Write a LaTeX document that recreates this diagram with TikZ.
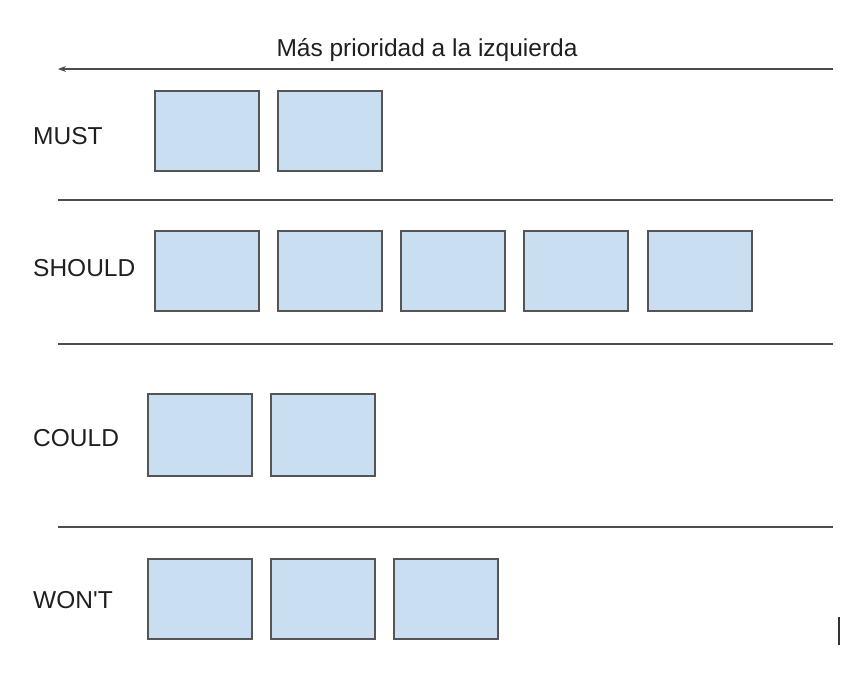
\documentclass[tikz,border=0pt]{standalone}
\usepackage{fontspec}
\setmainfont{Liberation Sans}[Ligatures=TeXOff]
\usetikzlibrary{arrows.meta}
\definecolor{cajaazul}{RGB}{201,222,240}
\definecolor{bordegris}{RGB}{85,85,85}
\tikzset{
	caja/.style={draw=bordegris, fill=cajaazul, line width=2pt, inner sep=0pt, minimum width=104pt, minimum height=80pt},
	etiqueta/.style={anchor=base west, inner sep=0pt, text=black!88, font=\fontsize{24.5}{28}\selectfont},
	separador/.style={draw=black!70, line width=1.3pt}
}
\begin{document}
\begin{tikzpicture}[x=1pt,y=-1pt]
		\useasboundingbox (0,0) rectangle (865,682);

		% Flecha de prioridad
		\node[anchor=base, inner sep=0pt, text=black!88, font=\fontsize{24.5}{28}\selectfont] (titulo) at (427,57) {Más prioridad a la izquierda};
		\coordinate (fderecha) at (833,69);
		\coordinate (fizquierda) at (58,69);
		\draw[separador, -{Stealth[length=8pt,width=6pt]}] (fderecha) -- (fizquierda);

		% MUST
		\node[etiqueta] (must) at (33,145) {MUST};
		\node[caja] (must1) at (206.5,131) {};
		\node[caja] (must2) at (329.5,131) {};

		\coordinate (sepA1) at (58,200);
		\coordinate (sepA2) at (833,200);
		\draw[separador] (sepA1) -- (sepA2);

		% SHOULD
		\node[etiqueta] (should) at (33,276) {SHOULD};
		\node[caja] (should1) at (206.5,271) {};
		\node[caja] (should2) at (329.5,271) {};
		\node[caja] (should3) at (452.5,271) {};
		\node[caja] (should4) at (575.5,271) {};
		\node[caja] (should5) at (700,271) {};

		\coordinate (sepB1) at (58,344);
		\coordinate (sepB2) at (833,344);
		\draw[separador] (sepB1) -- (sepB2);

		% COULD
		\node[etiqueta] (could) at (33,446) {COULD};
		\node[caja, minimum height=82pt] (could1) at (200,435) {};
		\node[caja, minimum height=82pt] (could2) at (323,435) {};

		\coordinate (sepC1) at (58,527);
		\coordinate (sepC2) at (833,527);
		\draw[separador] (sepC1) -- (sepC2);

		% WON'T
		\node[etiqueta] (wont) at (33,608) {WON'T};
		\node[caja] (wont1) at (200,599) {};
		\node[caja] (wont2) at (323,599) {};
		\node[caja] (wont3) at (445.5,599) {};

		% Marca vertical
		\coordinate (marca1) at (839,617);
		\coordinate (marca2) at (839,645);
		\draw[line width=1.6pt, black!80] (marca1) -- (marca2);
	\end{tikzpicture}
\end{document}
